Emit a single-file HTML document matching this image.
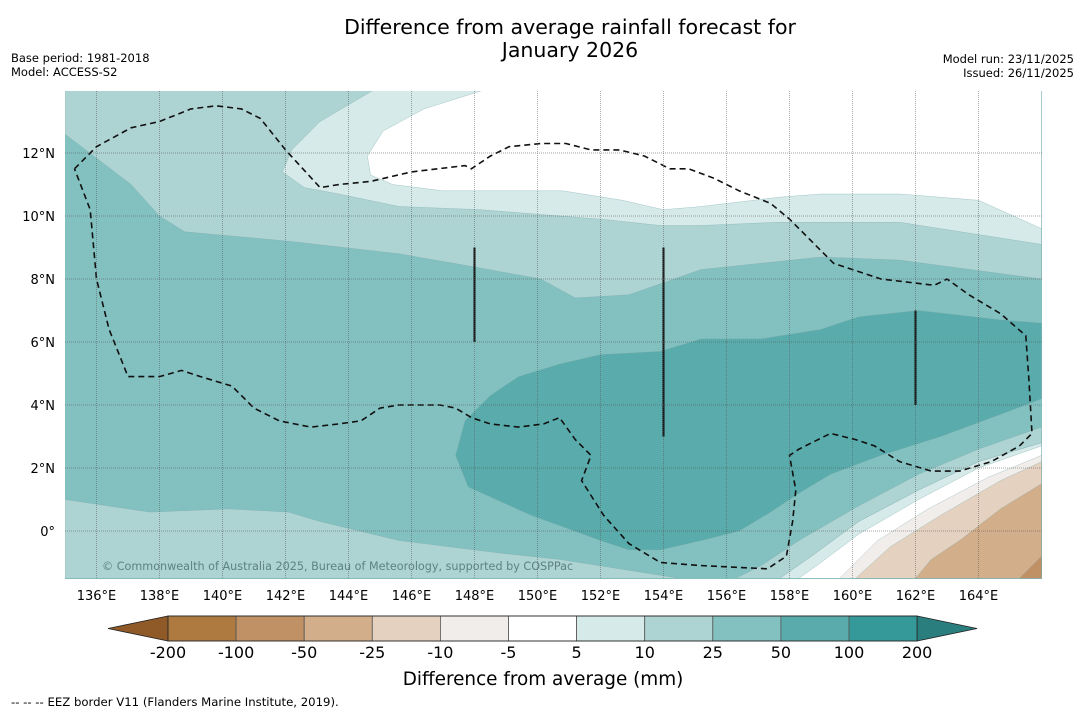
<!DOCTYPE html>
<html><head><meta charset="utf-8"><style>
html,body{margin:0;padding:0;background:#fff;}
body{width:1085px;height:713px;overflow:hidden;font-family:"DejaVu Sans","Liberation Sans",sans-serif;}
</style></head><body>
<svg id="chart" width="1085" height="713" xmlns="http://www.w3.org/2000/svg" font-family="DejaVu Sans, Liberation Sans, sans-serif">
<text x="570" y="34" font-size="20.5" text-anchor="middle">Difference from average rainfall forecast for</text>
<text x="570" y="57" font-size="20.5" text-anchor="middle">January 2026</text>
<text x="11" y="62" font-size="11.5">Base period: 1981-2018</text>
<text x="11" y="76" font-size="11.5">Model: ACCESS-S2</text>
<text x="1074" y="63" font-size="11.5" text-anchor="end">Model run: 23/11/2025</text>
<text x="1074" y="77" font-size="11.5" text-anchor="end">Issued: 26/11/2025</text>
<defs><clipPath id="mapclip"><rect x="65" y="91" width="977" height="488"/></clipPath></defs>
<g id="map" clip-path="url(#mapclip)"></g>
<g id="grid"></g>
<g id="axes"></g>
<text x="102" y="570" font-size="11.2" fill="#4f7373" fill-opacity="0.85">© Commonwealth of Australia 2025, Bureau of Meteorology, supported by COSPPac</text>
<g id="cbar"></g>
<text x="543" y="685" font-size="18.4" text-anchor="middle">Difference from average (mm)</text>
<text x="11" y="706" font-size="11.7">--  --  -- EEZ border V11 (Flanders Marine Institute, 2019).</text>
</svg>
<script>
// ---- data ----
const lonTicks=[136,138,140,142,144,146,148,150,152,154,156,158,160,162,164];
const latTicks=[0,2,4,6,8,10,12];
const cbarLabels=["-200","-100","-50","-25","-10","-5","5","10","25","50","100","200"];
const cbarColors=["#ae7a40","#bf9164","#d2ae8b","#e5d1bf","#f1edea","#ffffff","#d5eae9","#aed3d3","#83c0c0","#5aabab","#35999a"];
const top1025=[[135,14],[135,12.6],[137.1,11.0],[138.0,10.0],[138.8,9.5],[142.1,9.2],[145.6,8.8],[147.9,8.4],[150.1,8.0],[151.2,7.4],[152.9,7.5],[155.2,8.3],[157.1,8.5],[159.0,8.7],[161.5,8.6],[166,8.0],[166,14]];
const top510=[[144.8,14],[143.1,13.0],[142.2,12.1],[141.9,11.4],[142.6,10.9],[143.7,10.7],[145.6,10.3],[148.2,10.2],[150.7,10.0],[152.0,9.9],[153.9,9.7],[155.2,9.7],[157.6,9.8],[161.5,9.8],[166,9.1],[166,14]];
const topWhite=[[148.3,14],[146.4,13.4],[145.1,12.7],[144.6,11.9],[144.7,11.3],[145.4,11.0],[147.0,10.8],[148.9,10.8],[150.8,10.8],[152.7,10.5],[154.0,10.2],[155.2,10.3],[157.7,10.6],[159.0,10.7],[161.5,10.7],[164.0,10.5],[166,9.6],[166,14]];
const botLeft1025=[[135,-1.5],[135,1.0],[137.7,0.6],[140.2,0.7],[142.1,0.6],[143.1,0.3],[145.6,-0.3],[148.8,-0.7],[150.7,-0.9],[152.6,-1.2],[154.5,-1.5]];
const core50100=[[166,6.6],[164.7,6.7],[162.1,7.0],[160.2,6.8],[159.0,6.4],[157.1,6.1],[155.2,6.1],[153.9,5.7],[152.0,5.6],[150.7,5.3],[149.4,4.9],[148.5,4.3],[147.7,3.5],[147.4,2.4],[147.8,1.4],[149.8,0.5],[152.0,-0.3],[152.9,-0.6],[153.9,-0.6],[155.2,-0.3],[156.4,0.0],[157.4,0.6],[158.3,1.2],[159.3,1.8],[160.9,2.4],[162.8,3.0],[164.7,3.7],[166,4.2]];
const se1025=[[166,3.3],[166,2.8],[164.0,2.2],[162.1,1.3],[160.2,0.3],[158.7,-0.8],[157.7,-1.5],[156.3,-1.5],[157.1,-1.1],[158.3,-0.3],[160.2,0.8],[162.1,1.8],[164.0,2.6]];
const se510=[[166,2.8],[166,-1.5],[157.7,-1.5],[158.7,-0.8],[160.2,0.3],[162.1,1.3],[164.0,2.2]];
const seWhite=[[166,2.7],[164.0,2.0],[162.1,1.0],[160.2,-0.1],[159.0,-1.0],[158.3,-1.5],[166,-1.5]];
const seM10=[[166,2.4],[164.3,1.7],[162.4,0.7],[160.8,-0.3],[159.6,-1.5],[166,-1.5]];
const seM25=[[166,2.2],[164.7,1.6],[162.8,0.5],[161.2,-0.5],[160.1,-1.5],[166,-1.5]];
const seM50=[[166,1.5],[164.7,0.7],[163.4,-0.3],[162.5,-0.9],[162.0,-1.5],[166,-1.5]];
const seM100=[[166,-0.8],[165.3,-1.5],[166,-1.5]];
const eez=[[135.3,11.5],[136.0,12.2],[137.1,12.8],[138.0,13.0],[139.0,13.4],[139.8,13.5],[140.6,13.4],[141.2,13.1],[142.0,12.1],[143.1,10.9],[143.7,11.0],[144.7,11.1],[146.0,11.4],[147.7,11.6],[147.9,11.5],[148.5,11.9],[149.1,12.2],[150.1,12.3],[150.9,12.3],[151.7,12.1],[152.6,12.1],[153.4,11.9],[154.2,11.5],[154.8,11.5],[155.6,11.2],[156.4,10.8],[157.4,10.4],[158.0,9.9],[158.8,9.1],[159.4,8.5],[160.9,8.0],[162.6,7.8],[163.0,8.0],[163.7,7.5],[164.7,6.9],[165.5,6.2],[165.6,4.8],[165.7,3.1],[165.3,2.7],[164.4,2.2],[163.4,1.9],[162.5,1.9],[161.5,2.2],[160.7,2.7],[160.1,2.9],[159.3,3.1],[158.3,2.6],[158.0,2.4],[158.2,1.3],[158.1,0.3],[157.9,-0.8],[157.3,-1.2],[155.2,-1.1],[153.9,-1.0],[152.9,-0.4],[152.1,0.5],[151.4,1.6],[151.7,2.4],[151.2,2.9],[150.7,3.6],[150.2,3.4],[149.4,3.3],[148.5,3.4],[147.9,3.6],[147.4,3.9],[146.9,4.0],[145.6,4.0],[145.0,3.9],[144.4,3.5],[143.7,3.4],[142.8,3.3],[141.8,3.5],[141.0,3.9],[140.3,4.6],[139.3,4.9],[138.7,5.1],[138.0,4.9],[137.0,4.9],[136.4,6.4],[136.0,8.0],[135.8,10.2],[135.3,11.5]];
const solidLines=[[148,9,6],[154,9,3],[162,7,4]];
// ---- projection ----
const X=lon=>65+(lon-135)*31.5;
const Y=lat=>531-lat*31.5;
const NS='http://www.w3.org/2000/svg';
const mk=(t,a,p)=>{const e=document.createElementNS(NS,t);for(const k in a)e.setAttribute(k,a[k]);p.appendChild(e);return e;};
const pts=arr=>arr.map(p=>X(p[0]).toFixed(1)+','+Y(p[1]).toFixed(1)).join(' ');
const map=document.getElementById('map');
const bg=mk('rect',{x:65,y:91,width:977,height:488,fill:'#83c0c0'},map);


const layers=[[top1025,'#aed3d3','band-10-25-north'],[top510,'#d5eae9','band-5-10-north'],[topWhite,'#ffffff','band-neutral-north'],[botLeft1025,'#aed3d3','band-10-25-southwest'],[core50100,'#5aabab','band-50-100'],[se1025,'#aed3d3','band-10-25-southeast'],[se510,'#d5eae9','band-5-10-southeast'],[seWhite,'#ffffff','band-neutral-southeast'],[seM10,'#f1edea','band-minus5-minus10'],[seM25,'#e5d1bf','band-minus10-minus25'],[seM50,'#d2ae8b','band-minus25-minus50'],[seM100,'#bf9164','band-minus50-minus100']];
layers.forEach(l=>{const e=mk('polygon',{points:pts(l[0]),fill:l[1],stroke:'#7aa9a8','stroke-width':0.5,'stroke-opacity':0.6},map);

});
const ez=mk('polyline',{points:pts(eez),fill:'none',stroke:'#111','stroke-width':1.6,'stroke-dasharray':'6,4'},map);


solidLines.forEach(s=>{const e=mk('line',{x1:X(s[0]),x2:X(s[0]),y1:Y(s[1]),y2:Y(s[2]),stroke:'#111','stroke-width':2},map);

});
const grid=document.getElementById('grid'),axes=document.getElementById('axes');
lonTicks.forEach(v=>{const g=mk('line',{x1:X(v),x2:X(v),y1:91,y2:579,stroke:'#555','stroke-width':0.7,'stroke-dasharray':'1,1','stroke-opacity':0.7},grid);


const t=mk('text',{x:X(v),y:600,'font-size':13,'text-anchor':'middle'},axes);t.textContent=v+'°E';

});
latTicks.forEach(v=>{const g=mk('line',{x1:65,x2:1042,y1:Y(v),y2:Y(v),stroke:'#555','stroke-width':0.7,'stroke-dasharray':'1,1','stroke-opacity':0.7},grid);


const t=mk('text',{x:55,y:Y(v)+5,'font-size':13,'text-anchor':'end'},axes);t.textContent=v===0?'0°':v+'°N';

});
// colorbar
const cb=document.getElementById('cbar');const x0=168,w=68.1,y0=616,h=25;
const lt=mk('polygon',{points:`108,${y0+h/2} ${x0},${y0} ${x0},${y0+h}`,fill:'#8f5a28',stroke:'#222','stroke-width':0.8},cb);


const xe=x0+w*cbarColors.length;
const rt=mk('polygon',{points:`${xe},${y0} ${xe+60},${y0+h/2} ${xe},${y0+h}`,fill:'#2a7f7e',stroke:'#222','stroke-width':0.8},cb);


cbarColors.forEach((c,i)=>{const r=mk('rect',{x:x0+i*w,y:y0,width:w,height:h,fill:c,stroke:'#555','stroke-width':0.8},cb);

});
mk('rect',{x:x0,y:y0,width:xe-x0,height:h,fill:'none',stroke:'#222','stroke-width':0.8},cb);
cbarLabels.forEach((s,i)=>{const t=mk('text',{x:x0+i*w,y:658,'font-size':16,'text-anchor':'middle'},cb);t.textContent=s;

});
</script>
</body></html>
